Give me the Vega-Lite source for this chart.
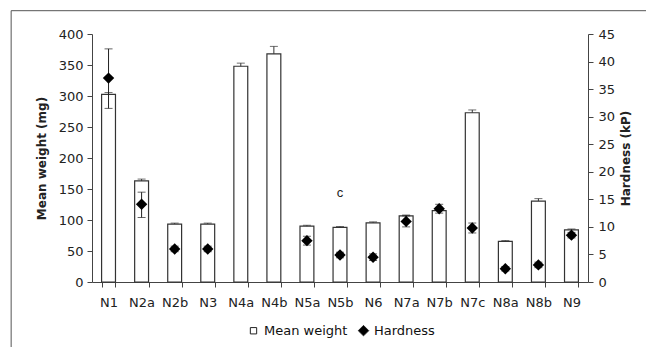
{
  "$schema": "https://vega.github.io/schema/vega-lite/v6.json",
  "autosize": {"type": "none"},
  "width": 496,
  "height": 248,
  "padding": {"left": 92, "top": 34, "right": 58, "bottom": 65},
  "background": "white",
  "config": {
    "view": {"stroke": null},
    "font": "DejaVu Sans",
    "axis": {"labelFont": "DejaVu Sans", "labelFontSize": 13, "labelColor": "#222", "titleFont": "DejaVu Sans", "titleFontSize": 12, "titleFontWeight": "bold", "titleColor": "#222", "domainColor": "#444", "tickColor": "#444", "grid": false, "labelOverlap": false, "labelFlush": false, "labelBound": false}
  },
  "datasets": {
    "tablets": [
      {"code": "N1", "weight": 302.5, "weightHi": 305.6, "hardness": 37.0, "hardLo": 31.5, "hardHi": 42.3},
      {"code": "N2a", "weight": 163, "weightHi": 166, "hardness": 14.1, "hardLo": 11.7, "hardHi": 16.3},
      {"code": "N2b", "weight": 93.5, "weightHi": 95, "hardness": 6.0, "hardLo": 5.5, "hardHi": 6.5},
      {"code": "N3", "weight": 93.5, "weightHi": 95, "hardness": 6.0, "hardLo": 5.5, "hardHi": 6.5},
      {"code": "N4a", "weight": 348, "weightHi": 353, "hardness": null, "hardLo": null, "hardHi": null},
      {"code": "N4b", "weight": 368, "weightHi": 380, "hardness": null, "hardLo": null, "hardHi": null},
      {"code": "N5a", "weight": 90, "weightHi": 91.5, "hardness": 7.5, "hardLo": 6.7, "hardHi": 8.3},
      {"code": "N5b", "weight": 88, "weightHi": 89.5, "hardness": 4.9, "hardLo": 4.4, "hardHi": 5.4},
      {"code": "N6", "weight": 95.5, "weightHi": 97, "hardness": 4.5, "hardLo": 3.9, "hardHi": 5.1},
      {"code": "N7a", "weight": 106.5, "weightHi": 108, "hardness": 11.0, "hardLo": 10.0, "hardHi": 12.0},
      {"code": "N7b", "weight": 115, "weightHi": 116.5, "hardness": 13.3, "hardLo": 12.5, "hardHi": 14.1},
      {"code": "N7c", "weight": 273, "weightHi": 277.5, "hardness": 9.8, "hardLo": 8.9, "hardHi": 10.7},
      {"code": "N8a", "weight": 65.5, "weightHi": 66.8, "hardness": 2.4, "hardLo": 2.0, "hardHi": 2.8},
      {"code": "N8b", "weight": 130.5, "weightHi": 134.5, "hardness": 3.1, "hardLo": 2.6, "hardHi": 3.6},
      {"code": "N9", "weight": 84, "weightHi": 85.5, "hardness": 8.5, "hardLo": 8.0, "hardHi": 9.0}
    ],
    "notes": [{"code": "N5b", "note": "c", "at": 143}],
    "frame": [{"x0": -0.163, "x1": 1.2, "y0": 1.094, "y1": -0.5}]
  },
  "layer": [
    {
      "layer": [
        {
          "data": {"name": "tablets"},
          "mark": {"type": "bar", "stroke": "#333", "strokeWidth": 1.2},
          "encoding": {
            "x": {"field": "code", "type": "nominal", "sort": null,
              "scale": {"paddingInner": 0.58, "paddingOuter": 0.29},
              "axis": {"title": null, "labelAngle": 0, "tickBand": "extent", "tickSize": 5, "labelPadding": 9, "domainColor": "#444"}},
            "y": {"field": "weight", "type": "quantitative",
              "scale": {"domain": [0, 400], "nice": false},
              "axis": {"orient": "left", "title": "Mean weight (mg)", "values": [0, 50, 100, 150, 200, 250, 300, 350, 400], "tickSize": 5, "labelPadding": 4, "titlePadding": 10}},
            "color": {"datum": "Mean weight", "type": "nominal",
              "scale": {"domain": ["Mean weight", "Hardness"], "range": ["white", "black"]},
              "legend": {
                "title": null, "orient": "none", "direction": "horizontal",
                "legendX": 155, "legendY": 290,
                "labelFont": "DejaVu Sans", "labelFontSize": 13, "labelColor": "#111",
                "labelOffset": 4, "columnPadding": 8, "symbolStrokeColor": "#222", "symbolStrokeWidth": 1,
                "encode": {"symbols": {"update": {
                  "shape": {"signal": "datum.value === 'Hardness' ? 'diamond' : 'square'"},
                  "size": {"signal": "datum.value === 'Hardness' ? 110 : 40"},
                  "stroke": {"value": "#222"}
                }}}
              }}
          }
        },
        {
          "data": {"name": "tablets"},
          "mark": {"type": "rule", "color": "#333", "strokeWidth": 1},
          "encoding": {
            "x": {"field": "code", "type": "nominal", "sort": null},
            "y": {"field": "weight", "type": "quantitative",
              "axis": {"orient": "left", "title": "Mean weight (mg)", "values": [0, 50, 100, 150, 200, 250, 300, 350, 400], "tickSize": 5, "labelPadding": 4, "titlePadding": 10}},
            "y2": {"field": "weightHi"}
          }
        },
        {
          "data": {"name": "tablets"},
          "mark": {"type": "tick", "color": "#333", "size": 8, "thickness": 1},
          "encoding": {
            "x": {"field": "code", "type": "nominal", "sort": null},
            "y": {"field": "weightHi", "type": "quantitative",
              "axis": {"orient": "left", "title": "Mean weight (mg)", "values": [0, 50, 100, 150, 200, 250, 300, 350, 400], "tickSize": 5, "labelPadding": 4, "titlePadding": 10}}
          }
        },
        {
          "data": {"name": "notes"},
          "mark": {"type": "text", "font": "Liberation Sans", "fontSize": 13, "color": "#222", "baseline": "middle"},
          "encoding": {
            "x": {"field": "code", "type": "nominal", "sort": null},
            "y": {"field": "at", "type": "quantitative",
              "axis": {"orient": "left", "title": "Mean weight (mg)", "values": [0, 50, 100, 150, 200, 250, 300, 350, 400], "tickSize": 5, "labelPadding": 4, "titlePadding": 10}},
            "text": {"field": "note"}
          }
        }
      ]
    },
    {
      "layer": [
        {
          "data": {"name": "tablets"},
          "transform": [{"filter": "datum.hardness != null"}],
          "mark": {"type": "rule", "color": "#222", "strokeWidth": 1},
          "encoding": {
            "x": {"field": "code", "type": "nominal", "sort": null,
              "scale": {"domain": ["N1","N2a","N2b","N3","N4a","N4b","N5a","N5b","N6","N7a","N7b","N7c","N8a","N8b","N9"], "paddingInner": 0.58, "paddingOuter": 0.29},
              "axis": null},
            "y": {"field": "hardLo", "type": "quantitative",
              "scale": {"domain": [0, 45], "nice": false},
              "axis": {"orient": "right", "title": "Hardness (kP)", "titleAngle": 270, "titleBaseline": "top", "values": [0, 5, 10, 15, 20, 25, 30, 35, 40, 45], "tickSize": 5, "labelPadding": 5, "titlePadding": 6}},
            "y2": {"field": "hardHi"}
          }
        },
        {
          "data": {"name": "tablets"},
          "transform": [{"filter": "datum.hardness != null"}],
          "mark": {"type": "tick", "color": "#222", "size": 8, "thickness": 1},
          "encoding": {
            "x": {"field": "code", "type": "nominal", "sort": null, "axis": null},
            "y": {"field": "hardLo", "type": "quantitative",
              "axis": {"orient": "right", "title": "Hardness (kP)", "titleAngle": 270, "titleBaseline": "top", "values": [0, 5, 10, 15, 20, 25, 30, 35, 40, 45], "tickSize": 5, "labelPadding": 5, "titlePadding": 6}}
          }
        },
        {
          "data": {"name": "tablets"},
          "transform": [{"filter": "datum.hardness != null"}],
          "mark": {"type": "tick", "color": "#222", "size": 8, "thickness": 1},
          "encoding": {
            "x": {"field": "code", "type": "nominal", "sort": null, "axis": null},
            "y": {"field": "hardHi", "type": "quantitative",
              "axis": {"orient": "right", "title": "Hardness (kP)", "titleAngle": 270, "titleBaseline": "top", "values": [0, 5, 10, 15, 20, 25, 30, 35, 40, 45], "tickSize": 5, "labelPadding": 5, "titlePadding": 6}}
          }
        },
        {
          "data": {"name": "tablets"},
          "transform": [{"filter": "datum.hardness != null"}],
          "mark": {"type": "point", "shape": "diamond", "filled": true, "size": 130, "opacity": 1},
          "encoding": {
            "x": {"field": "code", "type": "nominal", "sort": null, "axis": null},
            "y": {"field": "hardness", "type": "quantitative",
              "axis": {"orient": "right", "title": "Hardness (kP)", "titleAngle": 270, "titleBaseline": "top", "values": [0, 5, 10, 15, 20, 25, 30, 35, 40, 45], "tickSize": 5, "labelPadding": 5, "titlePadding": 6}},
            "color": {"datum": "Hardness", "type": "nominal"}
          }
        }
      ]
    },
    {
      "data": {"name": "frame"},
      "mark": {"type": "rect", "filled": false, "stroke": "#555", "strokeWidth": 1, "clip": false},
      "encoding": {
        "x": {"field": "x0", "type": "quantitative", "scale": {"domain": [0, 1], "nice": false, "zero": false, "clamp": false}, "axis": null},
        "x2": {"field": "x1"},
        "y": {"field": "y0", "type": "quantitative", "scale": {"domain": [0, 1], "nice": false, "zero": false, "clamp": false}, "axis": null},
        "y2": {"field": "y1"}
      }
    }
  ],
  "resolve": {"scale": {"x": "independent", "y": "independent"}}
}
